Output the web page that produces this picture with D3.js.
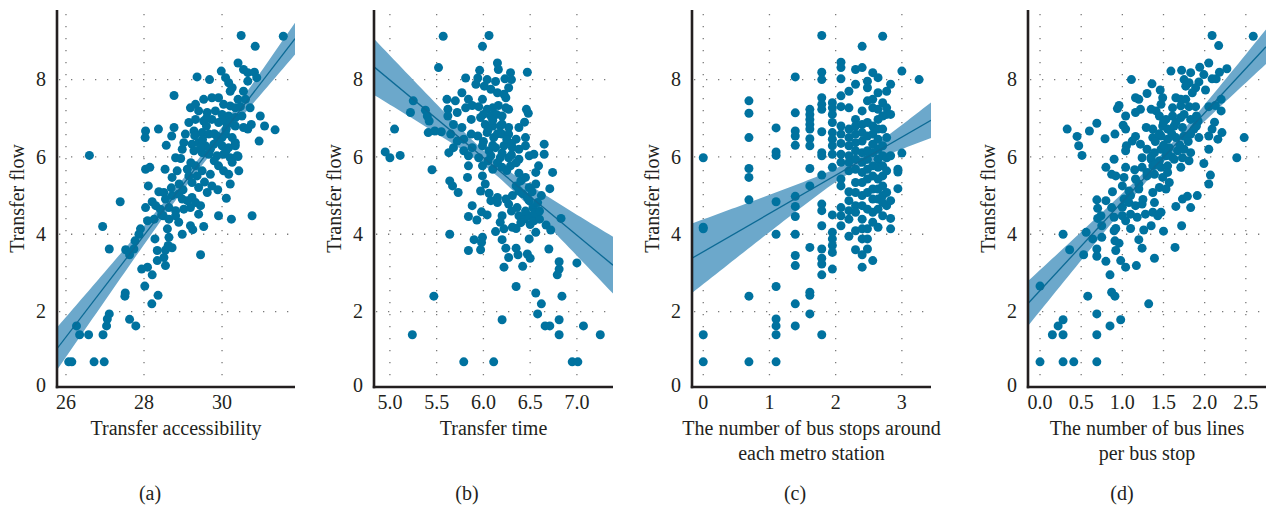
<!DOCTYPE html>
<html>
<head>
<meta charset="utf-8">
<script src="https://cdnjs.cloudflare.com/ajax/libs/d3/7.8.5/d3.min.js"></script>
<style>
  html, body { margin: 0; padding: 0; background: #fff; }
  svg text { font-family: "Liberation Serif", "Times New Roman", serif; fill: #231f20; }
</style>
</head>
<body>
<div id="chart"></div>
<script>
(function () {
  'use strict';

  // --- data -----------------------------------------------------------
  var yTicks = [0, 2, 4, 6, 8];
  var yTitle = 'Transfer flow';

  // (a) transfer accessibility vs transfer flow
  var accessPoints = [
    [30.49,9.14],[31.57,9.12],[30.85,8.86],[30.41,8.43],[30.55,8.26],[30.66,8.18],[30.83,8.19],[30.89,8.05],[30.66,7.96],
    [29.98,8.22],[30.09,8.05],[30.17,7.92],[30.26,7.79],[30.21,7.7],[29.36,8.07],[29.68,8.0],[28.77,7.59],
    [30.55,7.7],[30.6,7.49],[30.41,7.49],[30.72,7.27],[30.98,7.06],[31.09,6.8],[31.36,6.7],[30.95,6.41],[30.75,6.84],
    [29.19,7.27],[29.32,7.36],[29.53,7.49],[29.74,7.53],[29.91,7.53],[30.04,7.36],[30.21,7.32],[30.34,7.27],[30.47,7.3],
    [29.4,7.19],[29.62,7.15],[29.83,7.19],[30.0,7.1],[30.17,7.06],[30.34,7.02],[30.51,7.06],
    [29.15,6.89],[29.32,6.97],[29.53,6.93],[29.74,6.97],[29.91,6.89],[30.13,6.84],[30.34,6.8],[30.55,6.76],[30.66,6.72],
    [28.04,6.67],[28.03,6.5],[28.37,6.72],[28.77,6.76],[28.71,6.54],[28.57,6.3],
    [29.06,6.59],[29.28,6.67],[29.49,6.63],[29.66,6.59],[29.87,6.54],[30.09,6.59],[30.26,6.5],[30.34,6.37],
    [29.02,6.37],[29.23,6.33],[29.4,6.37],[29.57,6.29],[29.79,6.33],[30.0,6.29],[30.17,6.24],[30.34,6.29],
    [28.98,6.2],[29.28,6.16],[29.49,6.11],[29.66,6.07],[29.87,6.03],[30.04,6.07],[30.21,5.98],[30.41,6.01],
    [28.81,5.98],[28.94,5.96],[26.6,6.04],
    [28.04,5.68],[28.15,5.73],[28.54,5.68],[28.72,5.47],[28.85,5.64],
    [29.11,5.68],[29.32,5.77],[29.49,5.64],[29.36,5.51],[29.7,5.55],[29.91,5.77],[30.04,5.64],[30.26,5.86],[30.17,5.55],[30.43,5.64],[30.21,5.3],[30.39,6.03],
    [29.15,5.51],[29.23,5.34],[29.4,5.21],[29.62,5.08],[29.74,5.25],[29.89,5.15],[30.11,4.93],
    [28.11,5.25],[28.38,5.1],[28.51,5.08],[28.55,4.91],[28.72,5.0],[28.89,5.04],[28.98,4.91],[29.11,4.87],[29.23,4.95],[29.32,4.82],[29.45,4.74],
    [28.21,4.84],[28.04,4.69],[28.3,4.74],[28.42,4.65],[28.64,4.69],[28.81,4.61],[29.02,4.65],[29.19,4.69],[29.4,4.52],
    [28.09,4.35],[28.26,4.39],[28.49,4.48],[28.64,4.39],[28.81,4.48],[28.89,4.31],
    [29.91,4.48],[30.24,4.39],[30.77,4.48],[27.39,4.84],[26.94,4.2],[27.11,3.62],
    [27.91,4.14],[27.87,4.0],[27.77,3.83],[27.74,3.62],[27.53,3.6],[27.63,3.47],
    [28.28,3.88],[28.6,4.14],[28.64,3.92],[28.62,3.71],[28.72,3.65],[28.55,3.59],[28.34,3.58],[28.34,3.32],[28.51,3.4],[28.55,3.19],
    [28.98,4.0],[29.19,4.22],[29.25,4.12],[29.53,4.2],[29.45,3.47],
    [28.09,3.15],[27.94,3.1],[28.21,2.95],[28.02,2.66],[28.36,2.42],[28.2,2.2],[27.52,2.48],[27.51,2.4],
    [27.11,1.94],[27.06,1.81],[27.04,1.63],[27.63,1.8],[27.79,1.63],
    [26.27,1.63],[26.35,1.4],[26.58,1.4],[26.95,1.4],
    [26.07,0.7],[26.15,0.7],[26.72,0.7],[26.98,0.7],
    [29.6,6.8],[29.8,6.6],[30.0,6.5],[29.7,6.2],[29.9,6.4],[30.1,6.7],[29.5,6.45],[29.3,6.55],[30.2,6.9],[29.6,7.0],
    [30.0,6.95],[29.45,6.25],[29.8,5.9],[30.1,6.15],[29.2,5.85],[28.9,5.3],[29.0,5.15],[28.7,5.2],[29.55,5.35],[28.45,4.5]
  ];

  // (b) transfer time vs transfer flow
  var timePoints = [
    [5.57,9.12],[6.06,9.14],[5.99,8.86],[5.52,8.31],[6.15,8.43],[6.16,8.26],[6.47,8.19],
    [5.96,8.24],[5.81,8.04],[5.94,8.04],[6.04,8.0],[6.13,7.95],[6.23,8.02],[6.29,8.18],[6.3,8.0],
    [5.92,7.88],[6.01,7.83],[6.08,7.75],[6.15,7.66],[6.22,7.62],[6.27,7.79],[6.24,7.53],
    [5.77,7.66],[5.61,7.49],[5.7,7.45],[5.84,7.49],[5.99,7.49],
    [5.25,7.45],[5.22,7.15],[5.38,7.21],[5.4,7.06],[5.42,6.93],[5.41,6.63],[5.48,6.67],[5.55,6.65],[5.05,6.72],
    [5.62,7.23],[5.62,7.06],[5.72,7.15],[5.81,7.27],[5.88,7.33],[5.95,7.3],[6.04,7.23],[6.1,7.27],[6.16,7.33],[6.24,7.27],[6.27,7.23],[6.08,7.06],[6.14,7.1],[6.2,7.06],
    [5.68,6.84],[5.77,6.76],[5.87,6.97],[5.97,7.02],[6.02,6.84],[6.1,6.8],[6.18,6.8],[6.27,6.76],[6.38,6.76],[6.44,6.9],[6.46,7.23],[6.48,7.13],
    [5.65,6.59],[5.72,6.41],[5.79,6.46],[5.87,6.59],[5.94,6.54],[6.04,6.63],[6.11,6.5],[6.2,6.59],[6.27,6.59],[6.35,6.46],[6.45,6.5],[6.65,6.33],
    [5.68,6.24],[5.63,6.11],[5.79,6.16],[5.88,6.24],[5.99,6.29],[6.06,6.16],[6.13,6.24],[6.22,6.29],[6.31,6.24],[6.38,6.2],[6.45,6.29],[6.65,6.07],
    [4.95,6.13],[5.0,5.98],[5.11,6.04],
    [5.84,6.03],[5.95,5.98],[6.08,6.03],[6.18,5.98],[6.27,5.98],[6.38,5.94],[6.49,6.03],[6.54,6.07],
    [5.84,5.77],[5.99,5.77],[6.1,5.68],[6.2,5.73],[6.29,5.77],[6.38,5.58],[6.59,5.77],[6.56,5.6],[6.74,5.6],
    [5.45,5.67],[5.83,5.47],[5.99,5.51],[5.64,5.38],[5.67,5.25],[5.73,5.08],
    [6.02,5.3],[5.97,5.12],[6.06,5.06],[6.15,4.95],[6.24,4.91],[6.31,5.0],[6.35,5.25],[6.4,5.38],[6.45,5.47],[6.38,5.12],[6.49,5.21],[6.56,5.3],[6.71,5.18],
    [5.88,4.74],[6.08,4.87],[6.15,4.82],[6.27,4.78],[6.36,4.69],[6.49,4.87],[6.53,4.69],[6.58,4.82],
    [5.84,4.46],[5.93,4.37],[5.98,4.58],[6.04,4.5],[6.2,4.48],[6.18,4.31],[6.38,4.48],[6.44,4.39],[6.49,4.48],[6.54,4.35],[6.6,4.39],[6.67,4.24],[6.83,4.41],
    [6.13,4.07],[6.22,4.14],[6.31,4.18],[6.35,4.15],[6.49,3.88],[6.56,4.05],[6.72,4.11],
    [5.64,4.0],[5.9,3.86],[5.99,3.92],[5.98,3.79],[5.84,3.58],[5.97,3.6],[6.2,3.86],[6.24,3.64],[6.27,3.4],[6.35,3.64],[6.37,3.47],[6.47,3.49],[6.5,3.38],[6.42,3.17],[6.22,3.15],[6.7,3.62],
    [6.81,3.29],[6.81,3.1],[6.79,2.95],[7.0,3.26],
    [6.35,2.65],[6.56,2.48],[6.62,2.2],[6.58,1.94],[6.84,2.4],[5.47,2.4],[5.24,1.4],
    [6.2,1.79],[6.66,1.63],[6.71,1.63],[6.81,1.79],[6.81,1.4],[7.07,1.63],[7.25,1.4],
    [5.79,0.7],[6.11,0.7],[6.95,0.7],[7.01,0.7],
    [6.0,7.1],[6.1,6.95],[6.2,6.85],[6.05,6.7],[6.15,6.6],[6.25,6.45],[6.3,6.35],[6.0,6.4],[6.1,6.3],[6.2,6.1],
    [6.3,6.05],[6.35,5.85],[6.25,5.65],[6.15,5.85],[6.05,5.9],[6.42,5.05],[6.47,4.95],[6.52,5.1],[6.45,4.6],[6.55,4.55],
    [6.4,4.3],[6.5,4.25],[6.6,4.6],[6.3,4.6],[6.62,5.0]
  ];

  // (c) bus stops around each metro station: x column, flows in that column
  var stopsColumns = [
    [0.0,  [5.98,4.18,4.14,1.4,0.7]],
    [0.69, [7.45,7.13,6.5,5.7,5.47,4.89,2.4,0.7]],
    [1.1,  [6.75,6.13,6.04,4.84,4.0,2.65,1.81,1.63,1.4,0.7]],
    [1.39, [8.07,7.14,6.67,6.54,6.3,4.98,4.72,4.46,4.0,3.45,3.19,2.2,1.63]],
    [1.61, [7.23,7.1,6.97,6.84,6.72,6.47,6.29,5.7,5.25,3.66,2.5,2.42,1.94]],
    [1.79, [9.14,8.19,8.0,7.53,7.36,7.23,6.65,6.11,6.03,5.53,4.78,4.61,4.22,3.62,3.38,3.23,2.95,1.4]],
    [1.95, [7.4,7.27,7.1,6.89,6.63,6.46,6.29,6.07,5.73,4.5,4.05,3.88,3.71,3.53,3.1]],
    [2.08, [8.45,8.31,8.02,7.58,7.3,6.8,6.59,6.35,6.07,5.86,5.43,5.25,4.69,4.48,4.22]],
    [2.2,  [7.7,7.27,6.72,6.5,6.29,6.03,5.86,5.64,5.1,4.87,4.61,4.39,3.95]],
    [2.3,  [8.26,7.88,6.97,6.8,6.59,6.37,6.16,5.94,5.68,5.34,5.08,4.74,4.57,4.09,3.6]],
    [2.4,  [8.86,8.31,7.19,6.84,6.63,6.41,6.11,5.86,5.6,5.34,5.0,4.74,4.39,4.14,3.88,3.47,3.15]],
    [2.48, [7.96,7.79,7.45,6.89,6.54,6.16,5.94,5.68,5.43,5.08,4.65,4.14,3.88,3.62]],
    [2.56, [8.18,7.49,7.27,6.8,6.59,6.33,6.11,5.77,5.51,5.17,4.91,4.57,4.31,3.32]],
    [2.64, [8.05,7.66,7.23,6.97,6.72,6.46,6.2,5.94,5.73,5.43,5.17,4.91,4.65,4.18]],
    [2.71, [9.12,7.4,7.06,6.72,6.29,6.03,5.77,5.51,5.25,5.0,4.82,4.48]],
    [2.77, [7.7,7.27,7.1,6.5,5.98,5.64,5.08,4.74]],
    [2.83, [7.88,7.1,6.03,4.87,4.41,4.14]],
    [2.94, [5.68,5.61,5.18]],
    [3.0,  [8.22,6.1]],
    [3.26, [8.0]]
  ];

  // (d) bus lines per bus stop vs transfer flow
  var linesPoints = [
    [2.09,9.14],[2.59,9.12],[2.17,8.88],[2.05,8.43],[1.94,8.32],[2.27,8.28],[2.18,8.19],[1.59,8.22],[1.72,8.24],[1.83,8.18],[1.99,8.13],[2.09,8.02],[2.14,8.02],
    [1.75,8.0],[1.81,7.92],[1.93,7.94],[1.77,7.83],[1.89,7.79],[2.01,7.73],[1.85,7.66],
    [1.11,8.0],[1.36,7.89],[1.46,7.73],[1.3,7.64],
    [0.96,7.33],[0.94,7.25],[1.16,7.53],[1.2,7.49],[1.04,7.06],[1.22,7.23],[1.16,7.15],
    [1.49,7.53],[1.47,7.36],[1.65,7.53],[1.71,7.49],[1.77,7.49],[1.35,7.23],[1.41,7.19],[1.61,7.27],[1.71,7.32],[1.81,7.3],[1.89,7.3],[2.05,7.3],[2.13,7.33],[2.2,7.49],[2.2,7.19],
    [1.45,7.06],[1.53,6.97],[1.61,7.06],[1.71,7.02],[1.83,6.97],[1.9,7.06],[1.92,6.93],
    [1.01,6.82],[1.04,6.72],[1.29,6.76],[1.37,6.72],[1.49,6.8],[1.55,6.72],[1.63,6.8],[1.73,6.76],[1.87,6.72],[2.12,6.9],[2.21,6.63],[2.09,6.72],
    [0.69,6.87],[0.6,6.67],[0.33,6.72],[0.45,6.53],[0.47,6.29],[0.51,6.04],[0.79,6.47],[0.91,6.59],
    [1.16,6.53],[1.12,6.41],[1.05,6.29],[1.04,6.16],[1.22,6.33],[1.37,6.5],[1.47,6.54],[1.55,6.46],[1.65,6.5],[1.75,6.54],[1.83,6.59],[1.93,6.5],[2.05,6.54],[2.16,6.46],[2.48,6.5],
    [1.3,6.2],[1.39,6.11],[1.47,6.2],[1.57,6.24],[1.67,6.16],[1.75,6.2],[1.83,6.11],[2.05,6.2],
    [1.24,5.98],[1.35,5.94],[1.45,5.9],[1.53,6.03],[1.63,5.94],[1.73,5.98],[1.81,5.9],[2.39,5.98],
    [0.8,5.73],[0.9,5.94],[0.87,5.55],[1.04,5.73],[1.15,5.67],[1.24,5.73],[1.37,5.77],[1.47,5.73],[1.55,5.77],[1.71,5.73],[1.99,5.83],
    [0.92,5.51],[1.02,5.47],[1.16,5.43],[1.3,5.51],[1.39,5.55],[1.49,5.47],[1.57,5.34],[2.07,5.53],[2.05,5.3],
    [0.88,5.1],[1.0,5.25],[1.08,5.12],[1.2,5.17],[1.37,5.08],[1.45,5.21],[1.53,5.17],
    [0.69,4.89],[0.8,4.87],[0.87,4.69],[0.7,4.67],[1.02,4.91],[1.08,4.82],[1.16,4.74],[1.24,4.78],[1.39,4.82],[1.37,4.57],[1.43,4.48],[1.47,4.57],[1.73,4.91],[1.79,4.98],[1.83,4.69],[1.91,5.0],[1.65,4.72],
    [0.7,4.41],[0.74,4.48],[0.75,4.22],[0.9,4.44],[1.0,4.48],[1.04,4.35],[1.1,4.52],[1.18,4.44],[1.28,4.52],[1.35,4.22],[1.26,4.11],[1.1,4.15],[0.92,4.15],[0.9,4.09],[1.72,4.22],[1.5,4.08],
    [0.28,4.0],[0.56,4.05],[0.64,3.88],[0.75,3.92],[1.2,3.86],[0.36,3.6],[0.53,3.47],[0.69,3.62],[0.69,3.43],[0.8,3.3],[0.91,3.83],[0.96,3.77],[0.92,3.58],[0.98,3.32],[1.04,3.15],[1.24,3.64],[1.39,3.38],[1.64,3.66],[1.17,3.19],
    [0.85,2.95],[0.87,2.5],[0.91,2.4],[0.58,2.4],[0.0,2.66],[1.32,2.2],
    [0.69,1.94],[0.28,1.79],[0.22,1.63],[0.15,1.4],[0.28,1.4],[0.69,1.4],[0.85,1.63],[0.98,1.79],
    [0.0,0.7],[0.28,0.7],[0.41,0.7],[0.69,0.7],
    [1.5,6.9],[1.6,6.6],[1.4,6.4],[1.5,6.3],[1.6,6.0],[1.7,6.3],[1.55,6.1],[1.45,6.6],[1.65,6.9],[1.8,6.4],
    [1.35,6.0],[1.4,5.8],[1.3,5.6],[1.2,5.3],[1.1,5.0],[1.0,4.7],[1.25,4.9],[1.55,5.6],[1.75,7.1],[1.9,6.8]
  ];

  // fitted line end points and confidence band [mean x, half width at mean, growth]
  var accessFit = [[25.77, 1.04], [31.87, 9.06]], accessBand = [29.3, 0.14, 0.0227];
  var timeFit = [[4.83, 8.33], [7.386, 3.2]], timeBand = [6.1, 0.18, 0.307];
  var stopsFit = [[-0.17, 3.38], [3.44, 6.95]], stopsBand = [2.25, 0.15, 0.134];
  var linesFit = [[-0.146, 2.21], [2.745, 8.85]], linesBand = [1.5, 0.13, 0.118];

  var stopsPoints = [];
  stopsColumns.forEach(function (c) {
    c[1].forEach(function (v) { stopsPoints.push([c[0], v]); });
  });

  // --- layout -----------------------------------------------------------
  var width = 1269, height = 510,
  top = 10, bottom = 387,
  fontSize = '20px',
  pointColor = '#00729f',
  bandColor = '#6ca8cb',
  lineColor = '#0c6a95';

  var panels = [
    { tag: '(a)', tagX: 150, title: ['Transfer accessibility'], left: 57, right: 295,
      domain: [25.77, 31.87], ticks: [26, 28, 30], fmt: d3.format('d'),
      points: accessPoints, fit: accessFit, band: accessBand },
    { tag: '(b)', tagX: 467, title: ['Transfer time'], left: 374, right: 613,
      domain: [4.83, 7.386], ticks: [5.0, 5.5, 6.0, 6.5, 7.0], fmt: d3.format('.1f'),
      points: timePoints, fit: timeFit, band: timeBand },
    { tag: '(c)', tagX: 795, title: ['The number of bus stops around', 'each metro station'], left: 692, right: 931,
      domain: [-0.17, 3.44], ticks: [0, 1, 2, 3], fmt: d3.format('d'),
      points: stopsPoints, fit: stopsFit, band: stopsBand },
    { tag: '(d)', tagX: 1122, title: ['The number of bus lines', 'per bus stop'], left: 1028, right: 1266,
      domain: [-0.146, 2.745], ticks: [0, 0.5, 1.0, 1.5, 2.0, 2.5], fmt: d3.format('.1f'),
      points: linesPoints, fit: linesFit, band: linesBand }
  ];

  var svg = d3.select('#chart').append('svg')
  .attr('width', width)
  .attr('height', height);

  var y = d3.scaleLinear().domain([0.05, 9.8]).range([bottom, top]);

  panels.forEach(function (p, idx) {
    var x = d3.scaleLinear().domain(p.domain).range([p.left, p.right]);
    var g = svg.append('g').attr('class', 'panel-' + idx);

    g.append('defs').append('clipPath')
    .attr('id', 'clip-' + idx)
    .append('rect')
    .attr('x', p.left).attr('y', top)
    .attr('width', p.right - p.left).attr('height', bottom - top);

    // dotted grid
    g.selectAll('.vgrid').data(p.ticks).enter().append('line')
    .attr('x1', function (d) { return x(d); })
    .attr('x2', function (d) { return x(d); })
    .attr('y1', top + 4).attr('y2', bottom)
    .attr('stroke', '#7a7a7a').attr('stroke-width', 1.3)
    .attr('stroke-dasharray', '1.3 10.7');

    g.selectAll('.hgrid').data(yTicks.slice(1)).enter().append('line')
    .attr('x1', p.left + 2).attr('x2', p.right)
    .attr('y1', function (d) { return y(d); })
    .attr('y2', function (d) { return y(d); })
    .attr('stroke', '#7a7a7a').attr('stroke-width', 1.3)
    .attr('stroke-dasharray', '1.3 10.7');

    // confidence band
    var lineAt = function (v) {
      var a = p.fit[0], b = p.fit[1];
      return a[1] + (b[1] - a[1]) * (v - a[0]) / (b[0] - a[0]);
    };
    var half = function (v) {
      var dx = v - p.band[0];
      return Math.sqrt(p.band[1] * p.band[1] + p.band[2] * dx * dx);
    };
    var xs = d3.range(0, 61).map(function (i) {
      return p.domain[0] + (p.domain[1] - p.domain[0]) * i / 60;
    });

    var plot = g.append('g').attr('clip-path', 'url(#clip-' + idx + ')');

    plot.append('path')
    .datum(xs)
    .attr('fill', bandColor)
    .attr('d', d3.area()
      .x(function (d) { return x(d); })
      .y0(function (d) { return y(lineAt(d) - half(d)); })
      .y1(function (d) { return y(lineAt(d) + half(d)); }));

    plot.selectAll('circle').data(p.points).enter().append('circle')
    .attr('cx', function (d) { return x(d[0]); })
    .attr('cy', function (d) { return y(d[1]); })
    .attr('r', 4.5)
    .attr('fill', pointColor);

    plot.append('path')
    .datum(p.fit)
    .attr('fill', 'none')
    .attr('stroke', lineColor)
    .attr('stroke-width', 1.3)
    .attr('d', d3.line()
      .x(function (d) { return x(d[0]); })
      .y(function (d) { return y(d[1]); }));

    // axes
    g.append('line')
    .attr('x1', p.left).attr('x2', p.left)
    .attr('y1', top).attr('y2', bottom + 1.2)
    .attr('stroke', '#231f20').attr('stroke-width', 2.6);
    g.append('line')
    .attr('x1', p.left - 1.2).attr('x2', p.right)
    .attr('y1', bottom).attr('y2', bottom)
    .attr('stroke', '#231f20').attr('stroke-width', 2.6);

    g.selectAll('.xtick').data(p.ticks).enter().append('text')
    .attr('x', function (d) { return x(d); })
    .attr('y', 409)
    .attr('text-anchor', 'middle')
    .style('font-size', fontSize)
    .text(function (d) { return p.fmt(d); });

    g.selectAll('.ytick').data(yTicks).enter().append('text')
    .attr('x', p.left - 11)
    .attr('y', function (d) { return Math.min(y(d), bottom - 2); })
    .attr('dy', '0.34em')
    .attr('text-anchor', 'end')
    .style('font-size', fontSize)
    .text(function (d) { return d; });

    g.append('text')
    .attr('transform', 'translate(' + [p.left - 40, (top + bottom) / 2] + ') rotate(-90)')
    .attr('dy', '0.34em')
    .attr('text-anchor', 'middle')
    .style('font-size', fontSize)
    .text(yTitle);

    g.selectAll('.xtitle').data(p.title).enter().append('text')
    .attr('x', (p.left + p.right) / 2)
    .attr('y', function (d, i) { return 435 + i * 25; })
    .attr('text-anchor', 'middle')
    .style('font-size', fontSize)
    .text(function (d) { return d; });

    g.append('text')
    .attr('x', p.tagX)
    .attr('y', 500)
    .attr('text-anchor', 'middle')
    .style('font-size', fontSize)
    .text(p.tag);
  });
}());
</script>
</body>
</html>
